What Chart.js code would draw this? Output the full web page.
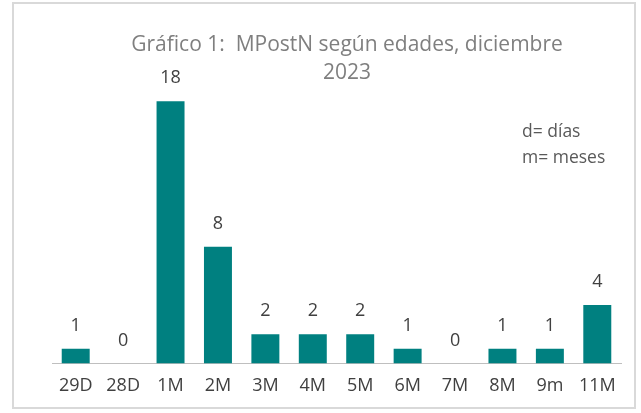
<!DOCTYPE html>
<html><head><meta charset="utf-8">
<script src="https://cdn.jsdelivr.net/npm/chart.js@4"></script>
<style>
html,body{margin:0;padding:0;background:#fff;}
#wrap{position:absolute;left:0;top:0;width:641px;height:413px;}
#frame{position:absolute;left:12px;top:2px;width:620px;height:403px;border:2px solid #d9d9d9;pointer-events:none;}
</style></head><body>
<div id="wrap"><canvas id="c" width="641" height="413"></canvas></div>
<div id="frame"></div>
<script>
const categories = ["29D","28D","1M","2M","3M","4M","5M","6M","7M","8M","9m","11M"];
const values = [1,0,18,8,2,2,2,1,0,1,1,4];
const titleLines = ["Gráfico 1:  MPostN según edades, diciembre","2023"];
const noteLines = ["d= días","m= meses"];

const FONT = "'Open Sans', sans-serif";
const overlay = {
  id:'overlay',
  afterDatasetsDraw(chart){
    const ctx = chart.ctx;
    const meta = chart.getDatasetMeta(0);
    const ys = chart.scales.y;
    ctx.save();
    ctx.fillStyle = '#404040';
    ctx.font = "18px " + FONT;
    ctx.textAlign = 'center';
    ctx.textBaseline = 'middle';
    meta.data.forEach((bar,i)=>{
      const top = ys.getPixelForValue(values[i]);
      ctx.fillText(String(values[i]), bar.x, top - 23);
    });
    ctx.fillStyle = '#7f7f7f';
    ctx.font = "21px " + FONT;
    ctx.fillText(titleLines[0], 347, 45);
    ctx.fillText(titleLines[1], 347, 73);
    ctx.fillStyle = '#595959';
    ctx.font = "17.5px " + FONT;
    ctx.textAlign = 'left';
    ctx.fillText(noteLines[0], 522, 132);
    ctx.fillText(noteLines[1], 522, 158);
    ctx.restore();
  }
};

new Chart(document.getElementById('c'), {
  type:'bar',
  data:{labels:categories, datasets:[{data:values, backgroundColor:'#008080', categoryPercentage:1, barPercentage:0.59}]},
  options:{
    responsive:false, animation:false,
    layout:{padding:{left:52,right:20,top:72,bottom:4}},
    plugins:{legend:{display:false}, title:{display:false}, tooltip:{enabled:false}},
    scales:{
      x:{grid:{display:false, drawTicks:false}, border:{display:true,color:'#bfbfbf',width:1},
         ticks:{color:'#404040', font:{family:FONT,size:18}, padding:12, maxRotation:0, autoSkip:false}},
      y:{display:false, min:0, max:20}
    }
  },
  plugins:[overlay]
});
</script>
</body></html>
